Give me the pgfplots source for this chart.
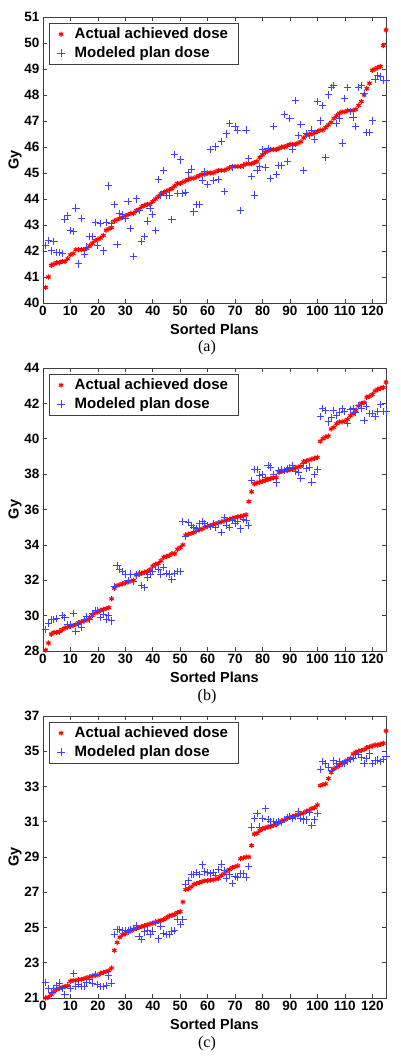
\documentclass[border=0pt]{standalone}
\usepackage{fontspec}
\setmainfont{Liberation Sans}
\newfontfamily\capfont{Liberation Serif}
\usepackage{pgfplots}
\usepackage{pgfplotstable}
\pgfplotsset{compat=1.18}

\pgfplotstableread{
x act mod
1 40.6 42.2
2 41.0 42.4
3 41.45 42.0
4 41.5 42.35
5 41.55 41.95
6 41.55 41.95
7 41.6 41.9
8 41.6 43.2
9 41.7 43.35
10 41.85 42.8
11 41.9 42.75
12 42.05 43.65
13 42.05 41.5
14 42.05 43.25
15 42.05 41.85
16 42.1 42.15
17 42.2 42.55
18 42.3 42.55
19 42.4 43.1
20 42.45 42.2
21 42.5 43.05
22 42.6 42.0
23 42.8 43.1
24 42.85 44.5
25 42.9 43.05
26 43.15 43.8
27 43.2 42.25
28 43.25 43.45
29 43.3 43.4
30 43.35 43.25
31 43.4 43.9
32 43.45 42.85
33 43.45 41.8
34 43.55 44.0
35 43.6 43.55
36 43.7 42.35
37 43.75 42.55
38 43.8 43.15
39 43.8 43.65
40 43.9 43.4
41 44.0 42.8
42 44.1 44.75
43 44.2 44.15
44 44.25 45.1
45 44.3 44.15
46 44.35 44.15
47 44.4 43.2
48 44.5 45.7
49 44.6 44.2
50 44.6 45.5
51 44.65 44.2
52 44.7 44.25
53 44.75 45.0
54 44.8 45.15
55 44.8 43.5
56 44.85 43.8
57 44.9 43.8
58 44.95 44.7
59 44.95 45.05
60 45.0 44.55
61 45.0 45.9
62 45.0 44.7
63 45.05 46.0
64 45.1 44.75
65 45.1 46.2
66 45.1 44.3
67 45.15 46.5
68 45.2 46.9
69 45.25 45.2
70 45.25 46.8
71 45.25 46.65
72 45.25 43.55
73 45.3 45.3
74 45.35 46.65
75 45.35 45.55
76 45.35 44.85
77 45.4 44.15
78 45.45 45.1
79 45.6 45.25
80 45.7 45.9
81 45.8 45.2
82 45.85 45.95
83 45.9 44.8
84 45.9 46.8
85 45.9 44.95
86 45.95 45.3
87 46.0 45.3
88 46.0 47.25
89 46.05 45.45
90 46.1 47.1
91 46.1 45.9
92 46.1 47.8
93 46.15 46.45
94 46.2 46.85
95 46.35 45.1
96 46.45 46.5
97 46.5 46.45
98 46.5 46.65
99 46.55 46.3
100 46.6 47.75
101 46.65 47.0
102 46.65 47.6
103 46.75 45.6
104 46.85 48.0
105 46.95 48.3
106 47.1 48.35
107 47.2 46.9
108 47.3 47.1
109 47.35 46.15
110 47.35 47.85
111 47.4 48.3
112 47.4 47.35
113 47.4 47.15
114 47.45 46.8
115 47.6 48.3
116 47.75 48.35
117 48.0 48.05
118 48.25 46.55
119 48.45 46.55
120 48.95 47.0
121 49.0 48.6
122 49.05 48.75
123 49.1 48.7
124 49.9 48.55
125 50.5 48.55
}\dataA

\pgfplotstableread{
x act mod
1 28.05 29.2
2 28.45 29.55
3 28.95 29.8
4 29.05 29.8
5 29.05 29.85
6 29.1 29.1
7 29.2 30.0
8 29.3 29.9
9 29.35 29.5
10 29.4 29.5
11 29.45 30.1
12 29.5 29.1
13 29.6 29.5
14 29.65 29.35
15 29.7 29.8
16 29.75 29.95
17 29.9 29.8
18 30.0 30.1
19 30.15 30.3
20 30.2 30.3
21 30.3 29.9
22 30.35 30.05
23 30.4 29.8
24 30.45 30.0
25 30.95 29.7
26 31.55 31.65
27 31.7 32.85
28 31.75 32.6
29 31.8 32.5
30 31.85 32.35
31 31.9 32.0
32 31.95 32.35
33 32.0 31.95
34 32.3 32.3
35 32.35 32.4
36 32.4 31.7
37 32.45 31.6
38 32.5 32.15
39 32.6 32.35
40 32.8 32.5
41 32.9 32.85
42 32.95 32.6
43 33.1 32.35
44 33.3 32.7
45 33.35 32.4
46 33.4 32.35
47 33.5 32.05
48 33.5 32.4
49 33.75 32.5
50 33.85 32.5
51 34.0 35.3
52 34.55 34.5
53 34.6 35.25
54 34.65 35.1
55 34.7 35.0
56 34.8 34.9
57 34.85 35.2
58 34.9 35.3
59 35.0 35.2
60 35.05 35.1
61 35.1 35.05
62 35.15 35.2
63 35.2 35.0
64 35.25 35.2
65 35.3 34.7
66 35.35 35.55
67 35.4 35.1
68 35.45 35.0
69 35.5 35.4
70 35.55 35.2
71 35.6 35.3
72 35.6 34.9
73 35.65 35.45
74 35.7 35.4
75 36.45 35.1
76 37.0 37.65
77 37.45 38.25
78 37.5 38.25
79 37.55 37.95
80 37.6 38.0
81 37.65 37.8
82 37.7 38.5
83 37.75 38.4
84 37.8 38.0
85 37.8 37.5
86 38.1 38.2
87 38.15 38.25
88 38.2 38.2
89 38.2 38.3
90 38.25 38.35
91 38.3 38.5
92 38.35 38.15
93 38.4 38.1
94 38.45 37.75
95 38.7 38.6
96 38.75 38.3
97 38.8 38.4
98 38.85 37.55
99 38.9 38.0
100 38.95 38.25
101 39.85 41.25
102 40.0 41.7
103 40.1 41.6
104 40.15 40.95
105 40.55 41.2
106 40.65 41.6
107 40.85 41.3
108 40.95 41.5
109 40.95 41.7
110 41.0 41.55
111 41.1 40.85
112 41.3 41.65
113 41.4 41.7
114 41.6 41.5
115 41.85 41.9
116 42.0 41.7
117 42.05 41.05
118 42.35 41.85
119 42.4 41.45
120 42.5 41.45
121 42.7 41.25
122 42.8 41.55
123 42.85 41.95
124 42.9 41.55
125 43.2 41.55
}\dataB

\pgfplotstableread{
x act mod
1 21.0 21.9
2 21.05 21.55
3 21.2 21.3
4 21.35 21.55
5 21.5 21.7
6 21.55 21.85
7 21.6 21.55
8 21.65 21.2
9 21.7 21.7
10 21.95 21.55
11 22.0 22.4
12 22.0 21.65
13 22.05 21.75
14 22.05 21.65
15 22.1 21.65
16 22.15 21.9
17 22.2 22.05
18 22.25 21.85
19 22.3 22.35
20 22.3 21.75
21 22.4 21.65
22 22.45 21.65
23 22.5 21.7
24 22.55 22.25
25 22.7 21.85
26 23.7 24.6
27 24.15 24.9
28 24.45 24.9
29 24.6 24.85
30 24.65 24.85
31 24.75 24.8
32 24.8 24.9
33 24.9 24.95
34 24.95 25.1
35 25.0 24.5
36 25.05 24.3
37 25.1 24.75
38 25.15 24.85
39 25.2 24.6
40 25.25 24.8
41 25.3 25.3
42 25.35 24.35
43 25.4 25.05
44 25.45 24.65
45 25.55 24.6
46 25.65 24.6
47 25.7 24.8
48 25.75 24.85
49 25.85 25.45
50 25.9 25.15
51 26.45 25.45
52 27.15 27.45
53 27.2 27.65
54 27.3 28.0
55 27.45 28.0
56 27.5 28.1
57 27.55 28.0
58 27.6 28.55
59 27.65 28.15
60 27.65 28.1
61 27.7 28.05
62 27.7 28.1
63 27.75 27.95
64 27.8 28.3
65 27.95 28.6
66 28.05 28.25
67 28.2 27.8
68 28.3 28.0
69 28.4 27.5
70 28.45 27.9
71 28.5 27.85
72 28.9 28.05
73 28.95 28.05
74 29.0 27.85
75 29.0 28.45
76 29.65 30.7
77 30.3 31.2
78 30.35 31.45
79 30.5 30.7
80 30.6 31.2
81 30.65 31.75
82 30.7 31.15
83 30.75 31.0
84 30.8 31.0
85 30.85 30.95
86 30.95 31.0
87 31.05 30.95
88 31.1 31.15
89 31.2 31.25
90 31.25 31.3
91 31.3 31.2
92 31.35 31.3
93 31.4 31.6
94 31.45 31.2
95 31.5 31.1
96 31.6 31.1
97 31.65 31.55
98 31.75 30.8
99 31.8 31.1
100 31.95 31.45
101 33.05 33.95
102 33.1 34.4
103 33.15 34.3
104 33.45 34.1
105 33.8 33.9
106 34.0 34.45
107 34.1 34.3
108 34.2 34.4
109 34.3 34.3
110 34.4 34.3
111 34.5 34.45
112 34.6 34.55
113 34.85 34.6
114 34.95 34.85
115 35.0 34.8
116 35.05 34.65
117 35.1 34.3
118 35.2 34.6
119 35.25 34.85
120 35.3 34.3
121 35.35 34.45
122 35.35 34.5
123 35.4 34.4
124 35.45 34.55
125 36.15 34.7
}\dataC

\definecolor{axgray}{gray}{0.25}
\definecolor{mblue}{rgb}{0.25,0.25,1}
\definecolor{mred}{rgb}{1,0,0}
\pgfplotsset{
  panel/.style={
    scale only axis, width=343pt,
    xmin=0, xmax=125, xtick={0,10,...,120},
    axis line style={axgray, line width=0.6pt},
    tick style={axgray, line width=0.6pt},
    major tick length=4pt,
    /pgf/number format/assume math mode=true,
    ticklabel style={font=\fontsize{13.5}{15}\selectfont\bfseries},
    xlabel={Sorted Plans}, ylabel={Gy},
    label style={font=\fontsize{14.5}{17}\selectfont\bfseries},
    xlabel style={yshift=-1pt},
    ylabel style={yshift=-4pt},
    legend style={at={(0.018,0.98)}, anchor=north west, draw=axgray, line width=0.6pt,
      font=\fontsize{15}{18}\selectfont\bfseries, inner xsep=8pt, inner ysep=3pt, row sep=2.5pt},
    legend cell align=left,
  },
  actual/.style={only marks, mark=asterisk, mark size=2.6pt, color=mred, draw=mred, mark options={draw=mred, line width=1.1pt}},
  model/.style={only marks, mark=+, mark size=3.6pt, color=mblue, draw=mblue, mark options={draw=mblue, line width=1pt}},
}
\newcommand{\entA}{\hspace{8pt}Actual achieved dose\hspace{-7pt}}
\newcommand{\entB}{\hspace{8pt}Modeled plan dose}

\begin{document}
\begin{tikzpicture}
\useasboundingbox (0,0) rectangle (400pt,-1056pt);

\begin{axis}[panel, at={(43pt,-17pt)}, anchor=north west, height=286pt,
  ymin=40, ymax=51, ytick={40,41,...,51}]
\addplot[actual] table[x=x, y=act] {\dataA};
\addlegendentry{\entA}
\addplot[model] table[x=x, y=mod] {\dataA};
\addlegendentry{\entB}
\end{axis}
\node[font=\capfont\fontsize{16}{18}\selectfont] at (207pt,-348pt) {(a)};

\begin{axis}[panel, at={(43pt,-368pt)}, anchor=north west, height=283pt,
  ymin=28, ymax=44, ytick={28,30,...,44}]
\addplot[actual] table[x=x, y=act] {\dataB};
\addlegendentry{\entA}
\addplot[model] table[x=x, y=mod] {\dataB};
\addlegendentry{\entB}
\end{axis}
\node[font=\capfont\fontsize{16}{18}\selectfont] at (207pt,-697pt) {(b)};

\begin{axis}[panel, at={(43pt,-716pt)}, anchor=north west, height=282pt,
  ymin=21, ymax=37, ytick={21,23,...,37}]
\addplot[actual] table[x=x, y=act] {\dataC};
\addlegendentry{\entA}
\addplot[model] table[x=x, y=mod] {\dataC};
\addlegendentry{\entB}
\end{axis}
\node[font=\capfont\fontsize{16}{18}\selectfont] at (207pt,-1044pt) {(c)};
\end{tikzpicture}
\end{document}
